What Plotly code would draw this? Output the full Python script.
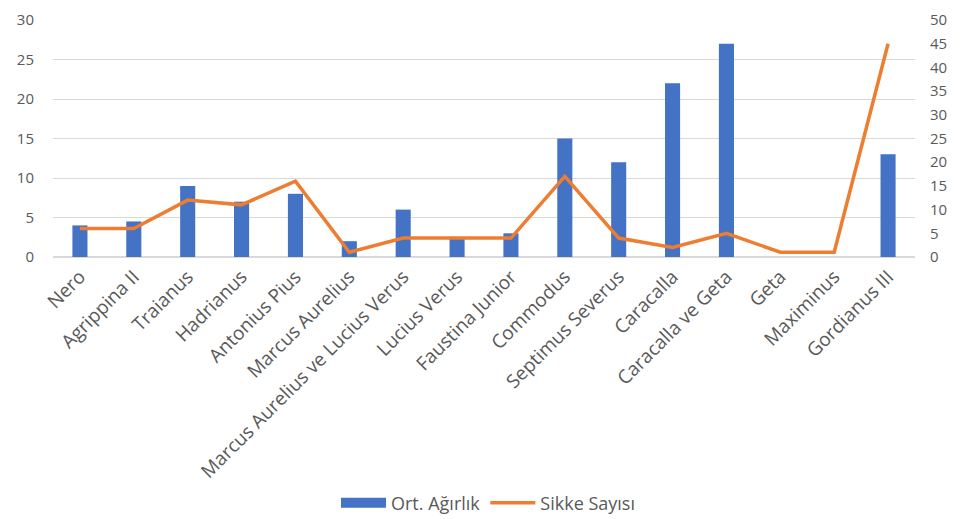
import plotly.graph_objects as go

categories = ["Nero", "Agrippina II", "Traianus", "Hadrianus", "Antonius Pius",
              "Marcus Aurelius", "Marcus Aurelius ve Lucius Verus", "Lucius Verus",
              "Faustina Junior", "Commodus", "Septimus Severus", "Caracalla",
              "Caracalla ve Geta", "Geta", "Maximinus", "Gordianus III"]
ort_agirlik = [4, 4.5, 9, 7, 8, 2, 6, 2.5, 3, 15, 12, 22, 27, 0, 0, 13]
sikke_sayisi = [6, 6, 12, 11, 16, 1, 4, 4, 4, 17, 4, 2, 5, 1, 1, 45]
left_ticks = [0, 5, 10, 15, 20, 25, 30]
right_ticks = [0, 5, 10, 15, 20, 25, 30, 35, 40, 45, 50]

font_family = "Open Sans, Liberation Sans, sans-serif"
gray = "#595959"
blue = "#4472C4"
orange = "#ED7D31"

W, H = 960, 511  # page body has an 8px margin

fig = go.Figure()
fig.add_trace(go.Bar(x=categories, y=ort_agirlik, name="Ort. Ağırlık",
                     marker=dict(color=blue, line=dict(width=0)), yaxis="y",
                     showlegend=False))
fig.add_trace(go.Scatter(x=categories, y=sikke_sayisi, name="Sikke Sayısı",
                         mode="lines", line=dict(color=orange, width=3.5),
                         yaxis="y2", showlegend=False))
# legend-only entries (wide swatch like the original)
fig.add_trace(go.Scatter(x=[None], y=[None], mode="lines", name="Ort. Ağırlık",
                         line=dict(color=blue, width=10)))
fig.add_trace(go.Scatter(x=[None], y=[None], mode="lines", name="Sikke Sayısı",
                         line=dict(color=orange, width=3.5), yaxis="y2"))

fig.update_layout(
    width=W, height=H,
    margin=dict(l=45, r=53, t=12, b=262, autoexpand=False),
    paper_bgcolor="white", plot_bgcolor="white",
    font=dict(family=font_family, size=17, color=gray),
    bargap=0.72,
    showlegend=True,
    legend=dict(orientation="h", x=0.5, xanchor="center", xref="container",
                y=(H - 495) / H, yanchor="middle", yref="container",
                font=dict(size=18, color=gray), itemwidth=45),
    xaxis=dict(tickangle=-45, showgrid=False, showline=False, ticks="",
               automargin=False, ticklabelstandoff=4, ticklabeloverflow="allow",
               tickfont=dict(size=19, color=gray)),
    yaxis=dict(range=[0, 30], tickvals=left_ticks, showgrid=True, gridcolor="#d9d9d9",
               gridwidth=1, zeroline=True, zerolinecolor="#d9d9d9", showline=False,
               ticks="", automargin=False, ticklabelstandoff=18,
               ticklabeloverflow="allow", tickfont=dict(size=15, color=gray)),
    yaxis2=dict(range=[0, 50], tickvals=right_ticks, overlaying="y", side="right",
                showgrid=False, zeroline=False, showline=False, ticks="",
                automargin=False, ticklabelstandoff=14,
                ticklabeloverflow="allow", tickfont=dict(size=15, color=gray)),
)

fig.write_html("out.html")
